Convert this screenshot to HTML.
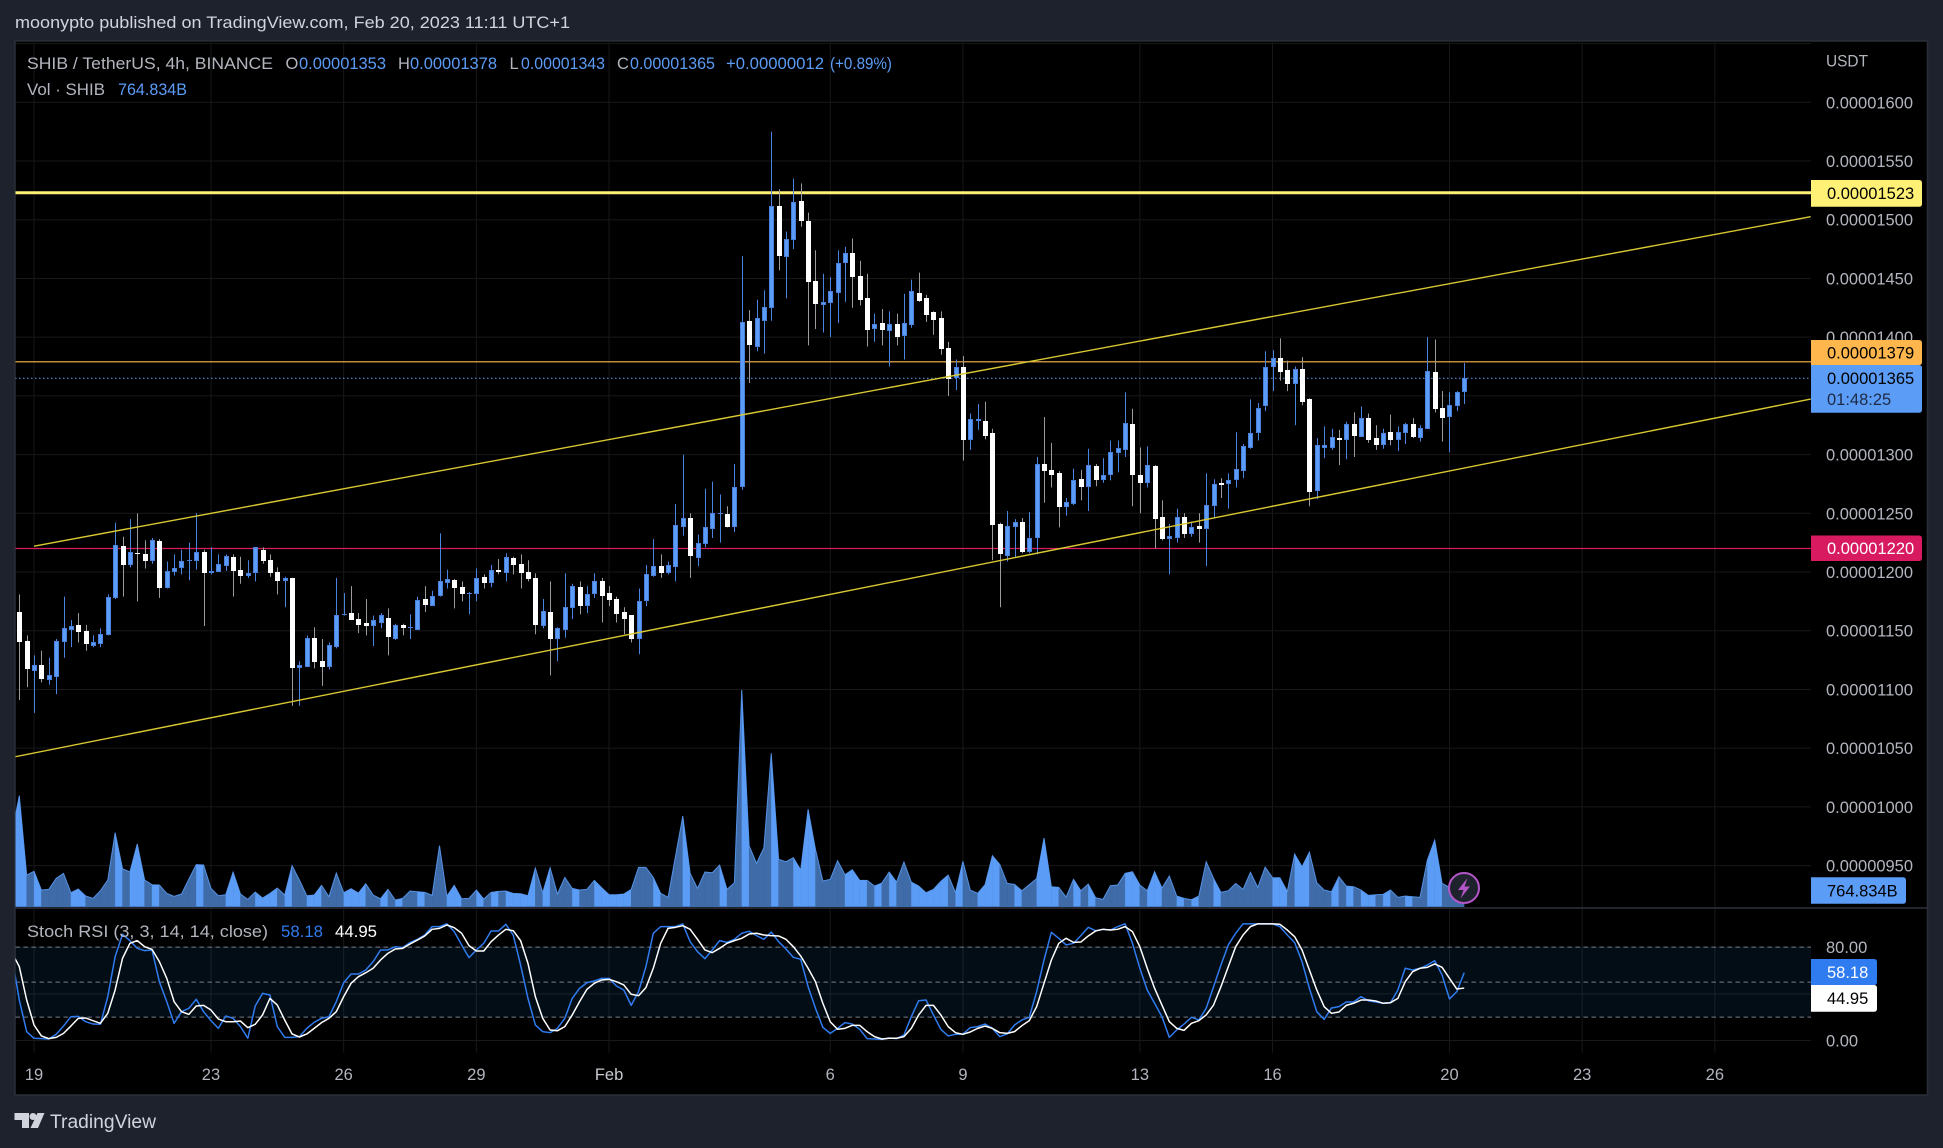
<!DOCTYPE html>
<html lang="en">
<head>
<meta charset="utf-8">
<title>SHIB / TetherUS chart</title>
<style>
html,body{margin:0;padding:0;background:#1e222d;width:1943px;height:1148px;overflow:hidden}
svg{display:block}
text{font-family:"Liberation Sans",sans-serif;font-size:16.5px;fill:#b2b5be}
</style>
</head>
<body>
<svg id="chart" xmlns="http://www.w3.org/2000/svg" width="1943" height="1148" viewBox="0 0 1943 1148">
<defs>
<clipPath id="main-clip"><rect x="15.5" y="41" width="1795.5" height="866"/></clipPath>
<clipPath id="rsi-clip"><rect x="15.5" y="909" width="1795.5" height="144"/></clipPath>
</defs>
<rect x="0" y="0" width="1943" height="1148" fill="#1e222d"/>
<rect x="15" y="41" width="1912.5" height="1054" fill="#000" stroke="#2a2e39" stroke-width="1.5"/>
<g id="grid"></g>
<g id="main-pane" clip-path="url(#main-clip)">
<g id="volume"></g>
<g id="levels"></g>
<g id="candles"></g>
<g id="trends"></g>
</g>
<line x1="15" y1="908" x2="1927" y2="908" stroke="#2f333f" stroke-width="1.5"/>
<g id="rsi-pane" clip-path="url(#rsi-clip)"></g>
<g id="axis"></g>

<text x="15" y="23" dominant-baseline="central" textLength="555" lengthAdjust="spacingAndGlyphs" style="fill:#d1d4dc;font-size:16.5px">moonypto published on TradingView.com, Feb 20, 2023 11:11 UTC+1</text>

<g>
<text x="27" y="64" dominant-baseline="central" textLength="246" lengthAdjust="spacingAndGlyphs">SHIB / TetherUS, 4h, BINANCE</text>
<text x="285.5" y="64" dominant-baseline="central">O</text>
<text x="299" y="64" dominant-baseline="central" textLength="87" lengthAdjust="spacingAndGlyphs" style="fill:#5b9cf6">0.00001353</text>
<text x="398" y="64" dominant-baseline="central">H</text>
<text x="410" y="64" dominant-baseline="central" textLength="87" lengthAdjust="spacingAndGlyphs" style="fill:#5b9cf6">0.00001378</text>
<text x="509.5" y="64" dominant-baseline="central">L</text>
<text x="521" y="64" dominant-baseline="central" textLength="84" lengthAdjust="spacingAndGlyphs" style="fill:#5b9cf6">0.00001343</text>
<text x="617" y="64" dominant-baseline="central">C</text>
<text x="630" y="64" dominant-baseline="central" textLength="85" lengthAdjust="spacingAndGlyphs" style="fill:#5b9cf6">0.00001365</text>
<text x="726" y="64" dominant-baseline="central" textLength="98" lengthAdjust="spacingAndGlyphs" style="fill:#5b9cf6">+0.00000012</text>
<text x="830" y="64" dominant-baseline="central" textLength="62" lengthAdjust="spacingAndGlyphs" style="fill:#5b9cf6">(+0.89%)</text>
<text x="27" y="90" dominant-baseline="central" textLength="78" lengthAdjust="spacingAndGlyphs">Vol · SHIB</text>
<text x="118" y="90" dominant-baseline="central" textLength="69" lengthAdjust="spacingAndGlyphs" style="fill:#5b9cf6">764.834B</text>
</g>

<g>
<text x="27" y="932" dominant-baseline="central" textLength="241" lengthAdjust="spacingAndGlyphs">Stoch RSI (3, 3, 14, 14, close)</text>
<text x="281" y="932" dominant-baseline="central" textLength="42" lengthAdjust="spacingAndGlyphs" style="fill:#2f7bf0">58.18</text>
<text x="335" y="932" dominant-baseline="central" textLength="42" lengthAdjust="spacingAndGlyphs" style="fill:#fff">44.95</text>
</g>

<g>
<path d="M14.5 1113H29V1128H22V1120H14.5Z" fill="#d1d4dc"/>
<circle cx="33" cy="1116.5" r="3.5" fill="#d1d4dc"/>
<path d="M37.5 1113H44.5L38 1128H30.5Z" fill="#d1d4dc"/>
<text x="50" y="1122.5" dominant-baseline="central" textLength="106" lengthAdjust="spacingAndGlyphs" style="fill:#d1d4dc;font-size:19px">TradingView</text>
</g>

<g id="badge-layer">
<circle cx="1464" cy="888" r="15" fill="#1e222d" stroke="#b455c8" stroke-width="2"/>
<path d="M1467.5 878L1458 890H1463.5L1460.5 898.5L1470 886.5H1464.5Z" fill="#b455c8"/>
</g>
</svg>

<script>
const opens=[1150,1166,1141,1116,1121,1108,1111,1140,1151,1155,1150,1137,1139,1146,1178,1222,1206,1216,1215,1209,1226,1186,1200,1203,1209,1209,1217,1199,1200,1205,1213,1202,1197,1199,1219,1210,1200,1192,1195,1118,1119,1144,1124,1119,1136,1163,1165,1160,1157,1154,1157,1161,1143,1155,1152,1151,1177,1171,1180,1191,1193,1187,1181,1181,1196,1191,1202,1199,1212,1207,1200,1195,1154,1166,1143,1151,1169,1187,1171,1181,1192,1182,1177,1166,1163,1143,1175,1197,1205,1199,1204,1238,1246,1212,1224,1237,1249,1249,1238,1272,1414,1392,1414,1425,1512,1468,1483,1516,1499,1448,1427,1429,1438,1463,1472,1452,1433,1407,1412,1405,1411,1401,1410,1438,1433,1421,1416,1391,1365,1375,1312,1329,1329,1318,1241,1214,1238,1243,1217,1229,1292,1287,1284,1255,1258,1279,1272,1290,1278,1283,1301,1304,1326,1283,1276,1290,1247,1228,1229,1247,1232,1239,1237,1256,1276,1275,1278,1286,1306,1318,1341,1375,1382,1372,1360,1373,1347,1269,1306,1306,1314,1312,1326,1315,1331,1314,1308,1319,1312,1318,1326,1314,1322,1370,1340,1332,1341,1353];
const highs=[1170,1181,1146,1129,1133,1127,1143,1179,1159,1165,1155,1146,1152,1181,1242,1230,1245,1250,1227,1229,1228,1209,1215,1219,1225,1250,1219,1221,1215,1215,1215,1213,1210,1221,1221,1215,1204,1196,1195,1124,1146,1153,1143,1140,1195,1182,1188,1165,1177,1163,1165,1169,1156,1156,1164,1179,1188,1184,1233,1202,1194,1192,1183,1203,1198,1206,1211,1216,1213,1215,1210,1199,1177,1192,1153,1199,1190,1192,1188,1199,1195,1188,1179,1170,1163,1186,1206,1228,1215,1209,1258,1300,1250,1232,1271,1277,1266,1256,1292,1469,1423,1432,1440,1575,1526,1490,1535,1531,1506,1474,1454,1451,1474,1477,1484,1465,1454,1420,1424,1422,1420,1437,1449,1455,1436,1422,1422,1396,1381,1384,1335,1343,1345,1322,1242,1252,1245,1246,1251,1298,1332,1310,1286,1263,1288,1287,1305,1292,1297,1312,1312,1353,1339,1306,1307,1291,1261,1241,1254,1250,1243,1250,1284,1279,1280,1284,1319,1309,1347,1344,1388,1389,1399,1380,1375,1383,1348,1314,1324,1322,1321,1328,1336,1341,1335,1325,1322,1334,1324,1327,1331,1325,1400,1398,1354,1353,1354,1378];
const lows=[1145,1091,1102,1080,1106,1104,1096,1127,1136,1140,1133,1136,1136,1146,1177,1179,1204,1175,1203,1207,1178,1186,1197,1198,1193,1202,1154,1198,1200,1201,1179,1190,1195,1192,1207,1196,1181,1170,1086,1086,1119,1118,1103,1117,1135,1163,1159,1148,1146,1137,1152,1129,1142,1146,1143,1151,1166,1171,1179,1186,1169,1175,1164,1175,1186,1187,1198,1192,1198,1186,1192,1147,1152,1112,1124,1144,1160,1164,1165,1178,1157,1171,1157,1147,1140,1130,1171,1196,1195,1198,1192,1231,1195,1205,1221,1229,1225,1238,1234,1270,1361,1388,1386,1414,1457,1433,1475,1494,1393,1407,1404,1400,1412,1430,1425,1427,1392,1396,1393,1375,1393,1381,1408,1430,1413,1402,1385,1350,1355,1295,1304,1321,1313,1210,1170,1209,1212,1216,1216,1215,1259,1272,1238,1248,1257,1261,1252,1273,1276,1278,1285,1298,1256,1250,1272,1220,1227,1198,1225,1229,1230,1225,1205,1246,1263,1254,1272,1280,1305,1312,1337,1354,1363,1354,1325,1342,1256,1262,1297,1304,1291,1296,1298,1315,1310,1304,1305,1308,1303,1309,1314,1311,1322,1336,1311,1302,1337,1343];
const closes=[1166,1140,1117,1121,1109,1112,1141,1152,1154,1149,1139,1140,1147,1179,1223,1206,1217,1215,1209,1227,1186,1201,1203,1209,1210,1217,1199,1201,1207,1214,1201,1197,1199,1221,1209,1199,1192,1195,1118,1121,1144,1123,1119,1138,1163,1164,1159,1155,1154,1159,1163,1145,1155,1152,1153,1176,1172,1180,1192,1194,1186,1181,1182,1195,1191,1202,1200,1213,1206,1199,1194,1155,1167,1143,1152,1170,1188,1171,1181,1192,1180,1176,1164,1160,1143,1175,1198,1205,1199,1206,1240,1246,1214,1225,1238,1250,1250,1238,1272,1413,1393,1416,1426,1512,1469,1484,1515,1499,1447,1428,1430,1439,1463,1472,1451,1432,1406,1411,1406,1411,1400,1412,1439,1431,1419,1415,1390,1364,1375,1312,1330,1330,1316,1240,1215,1239,1243,1217,1229,1292,1286,1283,1255,1260,1278,1272,1291,1278,1283,1302,1306,1327,1283,1276,1291,1245,1228,1231,1247,1232,1238,1237,1257,1275,1274,1278,1288,1307,1318,1340,1375,1382,1370,1360,1373,1345,1268,1308,1308,1315,1312,1326,1316,1331,1312,1308,1318,1312,1319,1326,1315,1323,1371,1339,1331,1342,1353,1365];
const volumes=[16500,24975,7125,7950,3750,3900,6375,7500,3150,3975,2400,1875,3600,6000,16650,8550,7800,14100,6000,4950,4875,3000,2325,2850,6225,9450,9375,4125,2475,2700,7800,2850,1650,3300,1950,3000,4200,2625,9225,6000,2475,2625,4800,2250,7575,3150,4050,3075,5175,2625,1800,3900,1500,1875,3525,3375,3225,2550,13725,2400,4800,1800,1875,3750,1725,3225,3450,3525,3000,2925,2475,8700,3150,8775,2850,6600,4125,3750,3900,5925,4275,2700,2700,2850,3900,8850,8850,6600,3000,2100,11250,20400,7500,4125,7800,7650,9375,3900,5400,48750,13725,9750,13275,34500,10650,10125,11025,8250,21900,12900,5775,6150,10350,7200,8325,5925,5925,4650,5325,7800,5550,10050,5550,4650,3150,3900,5700,7125,3150,10200,3750,3000,4950,11475,9525,5250,5025,3600,4950,6300,15450,4500,4350,2175,6150,3600,5100,2025,1650,4725,4875,7500,7875,4875,3600,7875,4200,6900,2400,1875,1575,2400,10125,6375,3225,3600,5250,3900,7725,4350,8925,6525,6525,3450,11850,9000,12300,5400,3750,3375,6750,4650,4500,3750,2550,2700,2775,3750,2100,2400,2250,2100,10500,15000,5250,4350,1500,765];
const stochK=[71.9,34.7,7.6,1.9,1.6,1.3,5.3,12.4,20.4,20.7,16.1,14.1,13.9,37.6,71.9,91.0,85.6,79.0,77.0,77.6,50.4,33.3,14.7,24.7,27.6,35.3,24.7,17.0,10.4,21.0,19.0,11.9,1.9,29.6,40.4,39.0,11.9,2.7,2.7,3.3,10.4,15.6,19.0,20.4,33.3,49.6,57.0,57.0,60.4,67.6,77.6,77.6,80.4,79.6,83.9,86.7,90.4,97.6,97.6,100,93.3,81.9,71.0,77.6,83.3,93.9,93.9,99.6,90.4,64.7,36.1,13.3,7.6,6.7,10.4,19.0,36.1,44.7,49.6,51.0,53.3,53.3,46.7,43.3,30.1,41.9,63.3,91.9,97.6,97.6,97.6,99.9,84.7,76.1,70.1,77.6,85.6,84.1,86.7,91.9,93.6,89.9,86.7,93.0,84.7,78.4,71.3,69.6,46.1,27.6,11.3,6.1,10.4,15.3,14.1,9.6,1.6,1.3,1.0,2.1,1.6,4.7,20.4,34.1,34.7,21.9,9.6,3.9,5.3,5.6,11.0,11.9,14.1,10.4,3.3,5.6,13.3,17.6,19.9,41.9,69.0,92.7,87.6,81.9,83.3,89.9,97.0,94.1,95.3,94.7,97.6,100,83.3,61.9,43.3,31.9,20.4,2.7,9.0,14.1,19.9,17.6,27.6,46.1,64.7,81.9,91.9,100,100,100,100,100,97.6,90.4,83.9,67.6,44.7,24.7,18.1,27.9,29.0,33.0,33.0,37.6,34.1,33.0,31.9,32.4,43.3,61.9,60.4,61.9,64.7,68.4,56.1,35.6,41.9,58.18];
const stochD=[75.3,63.3,34.7,13.3,3.9,1.6,2.7,6.1,12.4,19.0,19.3,17.0,14.7,23.3,43.3,70.4,83.3,85.6,80.4,78.1,67.6,53.3,33.3,24.7,22.4,29.6,30.1,26.1,18.4,16.1,16.1,16.7,11.0,13.9,21.9,36.1,30.4,17.6,5.6,3.0,5.6,10.4,15.3,19.0,24.7,37.6,49.0,54.7,58.1,61.9,69.0,74.7,78.4,79.0,82.7,86.1,89.6,95.3,96.1,99.0,96.7,91.9,81.3,76.7,76.7,84.7,90.4,95.3,94.1,85.6,66.1,37.6,19.0,9.0,8.4,11.9,21.9,33.3,43.9,49.0,51.9,52.4,50.4,47.6,39.6,38.4,45.3,61.9,83.3,96.1,97.0,98.4,95.3,86.7,77.6,75.3,79.0,83.3,85.6,87.6,91.3,91.9,90.4,89.9,89.6,86.7,80.4,72.4,61.9,50.4,31.9,16.1,9.6,10.4,13.0,13.0,7.6,3.3,1.3,1.9,1.9,3.3,10.4,21.9,30.1,30.1,21.9,11.9,6.7,5.3,7.3,10.4,12.4,10.4,6.7,6.1,7.6,12.7,17.0,29.0,49.0,69.0,83.3,87.6,84.1,84.4,89.6,93.9,95.3,94.7,95.3,97.6,93.3,80.4,61.9,44.7,30.4,16.1,10.4,8.7,14.7,17.0,21.9,30.4,46.1,63.3,80.4,90.4,97.6,100,100,100,99.6,94.7,89.0,77.6,60.4,43.3,29.0,23.3,24.4,30.1,31.9,34.7,34.7,33.9,31.9,32.4,36.1,50.4,59.0,61.9,62.7,65.6,62.7,53.3,44.1,44.95];
const gridPrices=[1650,1600,1550,1500,1450,1400,1350,1300,1250,1200,1150,1100,1050,1000,950];
const priceTicks=[1600,1550,1500,1450,1400,1350,1300,1250,1200,1150,1100,1050,1000,950];
const timeLabels=["19","23","26","29","Feb","6","9","13","16","20","23","26"];
const timeBars=[3,27,45,63,81,111,129,153,171,195,213,231];
const rsiGrid=[80,40,0];
const rsiDashed=[80,50,20];
const rsiTicks=[80,0];
const supportLevel=1220;
const resistanceLevel=1523;
const midLevel=1379;
const lastPrice=1365;
const upperTrendBars=[3,244];
const upperTrendPrices=[1222,1502.6];
const lowerTrendBars=[0.457,244];
const lowerTrendPrices=[1042.7,1347.3];
const NS="http://www.w3.org/2000/svg";
function barX(i){return 19.3+7.372*(i-1);}
function priceY(p){return 102.3+(1600-p)*1.1743;}
function volY(v){return 906.7-v/225;}
function rsiY(v){return 1040.5-v*1.1667;}
function fmt(p){return (p/1e8).toFixed(8);}
function mk(tag,attrs,parent,txt){
  const el=document.createElementNS(NS,tag);
  for(const k in attrs){el.setAttribute(k,attrs[k]);}
  if(txt!==undefined){el.textContent=txt;}
  parent.appendChild(el);
  return el;
}
const grid=document.getElementById('grid');
const volG=document.getElementById('volume');
const levels=document.getElementById('levels');
const candles=document.getElementById('candles');
const trends=document.getElementById('trends');
const rsiP=document.getElementById('rsi-pane');
const axis=document.getElementById('axis');
const GRID="#181818";

gridPrices.forEach(function(p){
  const l=mk('line',{x1:15.5,x2:1811,y1:priceY(p),y2:priceY(p),stroke:GRID,'stroke-width':1},grid);
  
  
});
rsiGrid.forEach(function(v){
  const l=mk('line',{x1:15.5,x2:1811,y1:rsiY(v),y2:rsiY(v),stroke:GRID,'stroke-width':1},grid);
  
  
});
timeBars.forEach(function(b,i){
  const x=barX(b);
  const l1=mk('line',{x1:x,x2:x,y1:41,y2:907,stroke:GRID,'stroke-width':1},grid);
  
  
  const l2=mk('line',{x1:x,x2:x,y1:909,y2:1052.7,stroke:GRID,'stroke-width':1},grid);
  
  
  const t=mk('text',{x:x,y:1075,'text-anchor':'middle','dominant-baseline':'central'},axis,timeLabels[i]);
  
  
  if(timeLabels[i]==='Feb'){t.style.fill='#c8cad1';}
});

/* volume area: each segment coloured by its closing bar direction */
for(let i=1;i<volumes.length;i++){
  const up=closes[i]>=opens[i];
  const pts=[barX(i-1),906.7,barX(i-1),volY(volumes[i-1]),barX(i),volY(volumes[i]),barX(i),906.7].join(' ');
  const c=up?'#3f6ca8':'#5b9cf6';
  const s=mk('polygon',{points:pts,fill:c,stroke:c,'stroke-width':0.3},volG);
  
  
}
const volLine=mk('polyline',{points:volumes.map(function(v,i){return barX(i)+','+volY(v);}).join(' '),fill:'none',stroke:'#5b9cf6','stroke-width':1,opacity:0.85},volG);


const volBase=mk('line',{x1:15.5,x2:barX(opens.length-1),y1:907,y2:907,stroke:'#3f6ca8','stroke-width':1.2},volG);



/* levels */
const lvlSup=mk('line',{x1:15,x2:1811,y1:priceY(supportLevel),y2:priceY(supportLevel),stroke:'#d81b60','stroke-width':1.2},levels);


const lvlMid=mk('line',{x1:15,x2:1811,y1:priceY(midLevel),y2:priceY(midLevel),stroke:'#ffb74d','stroke-width':1.2},levels);


const lvlRes=mk('line',{x1:15,x2:1811,y1:priceY(resistanceLevel),y2:priceY(resistanceLevel),stroke:'#fff176','stroke-width':3},levels);


const lvlLast=mk('line',{x1:15,x2:1811,y1:priceY(lastPrice),y2:priceY(lastPrice),stroke:'#5b9cf6','stroke-width':1,'stroke-dasharray':'1.5 2.5'},levels);



/* candles */
for(let i=0;i<opens.length;i++){
  const x=Math.round(barX(i))+0.5;
  const up=closes[i]>=opens[i];
  const g=mk('g',{},candles);
  
  
  const wick=mk('line',{x1:x,x2:x,y1:priceY(highs[i]),y2:priceY(lows[i]),stroke:up?'#4a84e0':'#9a9a9f','stroke-width':1},g);
  
  
  const top=Math.round(priceY(Math.max(opens[i],closes[i])));
  const bot=Math.max(top+1,Math.round(priceY(Math.min(opens[i],closes[i]))));
  const body=mk('rect',{x:x-2.5,y:top,width:5,height:bot-top,fill:up?'#4a80dc':'#fff'},g);
  
  
  if(up&&bot-top>2){
    const inner=mk('rect',{x:x-1.5,y:top+1,width:3,height:bot-top-2,fill:'#5b9cf6'},g);
    
    
  }
}

/* trend lines */
const tu=mk('line',{x1:barX(upperTrendBars[0]),y1:priceY(upperTrendPrices[0]),x2:barX(upperTrendBars[1]),y2:priceY(upperTrendPrices[1]),stroke:'#d9c832','stroke-width':1.4},trends);


const tl=mk('line',{x1:barX(lowerTrendBars[0]),y1:priceY(lowerTrendPrices[0]),x2:barX(lowerTrendBars[1]),y2:priceY(lowerTrendPrices[1]),stroke:'#d9c832','stroke-width':1.4},trends);



/* stoch rsi */
const band=mk('rect',{x:15.5,y:rsiY(80),width:1795.5,height:rsiY(20)-rsiY(80),fill:'#2196f3',opacity:0.085},rsiP);


rsiDashed.forEach(function(v){
  const l=mk('line',{x1:15.5,x2:1811,y1:rsiY(v),y2:rsiY(v),stroke:'#787b86','stroke-width':1,'stroke-dasharray':'4.5 3.5'},rsiP);
  
  
});
const kLine=mk('polyline',{points:stochK.map(function(v,i){return barX(i)+','+rsiY(v);}).join(' '),fill:'none',stroke:'#2f7bf0','stroke-width':1.5,'stroke-linejoin':'round'},rsiP);


const dLine=mk('polyline',{points:stochD.map(function(v,i){return barX(i)+','+rsiY(v);}).join(' '),fill:'none',stroke:'#fff','stroke-width':1.5,'stroke-linejoin':'round'},rsiP);



/* axis labels */
priceTicks.forEach(function(p){
  const t=mk('text',{x:1826,y:priceY(p)+1,'dominant-baseline':'central',textLength:87,lengthAdjust:'spacingAndGlyphs'},axis,fmt(p));
  
  
});
rsiTicks.forEach(function(v){
  const t=mk('text',{x:1826,y:rsiY(v)+1,'dominant-baseline':'central'},axis,v.toFixed(2));
  
  
});
const unit=mk('text',{x:1826,y:61.7,'dominant-baseline':'central',textLength:42,lengthAdjust:'spacingAndGlyphs'},axis,'USDT');



function tag(name,y0,y1,right,fill,txt,txtFill,txtY){
  const r=mk('path',{d:'M1811 '+y0+'H'+(right-3)+'Q'+right+' '+y0+' '+right+' '+(y0+3)+'V'+(y1-3)+'Q'+right+' '+y1+' '+(right-3)+' '+y1+'H1811Z',fill:fill},axis);
  
  
  const t=mk('text',{x:1827,y:txtY===undefined?(y0+y1)/2+0.8:txtY,'dominant-baseline':'central'},axis,txt);
  t.style.fill=txtFill;
  
  
}
tag('resistance-price',180,206.7,1922,'#fff176',fmt(resistanceLevel),'#000');
tag('support-price',535.5,561,1922,'#d81b60',fmt(supportLevel),'#fff');
tag('mid-level-price',340,365,1922,'#ffb74d',fmt(midLevel),'#000');
tag('last-price',365,412.7,1922,'#5b9cf6',fmt(lastPrice),'#000',378.8);
const cd=mk('text',{x:1827,y:400,'dominant-baseline':'central'},axis,'01:48:25');
cd.style.fill='#1e2a44';


tag('volume-value',877.3,903.7,1906,'#5b9cf6','764.834B','#000');
tag('stoch-k',959,985,1877,'#2f7bf0','58.18','#fff');
tag('stoch-d',985,1011.7,1877,'#fff','44.95','#000');
</script>
</body>
</html>
